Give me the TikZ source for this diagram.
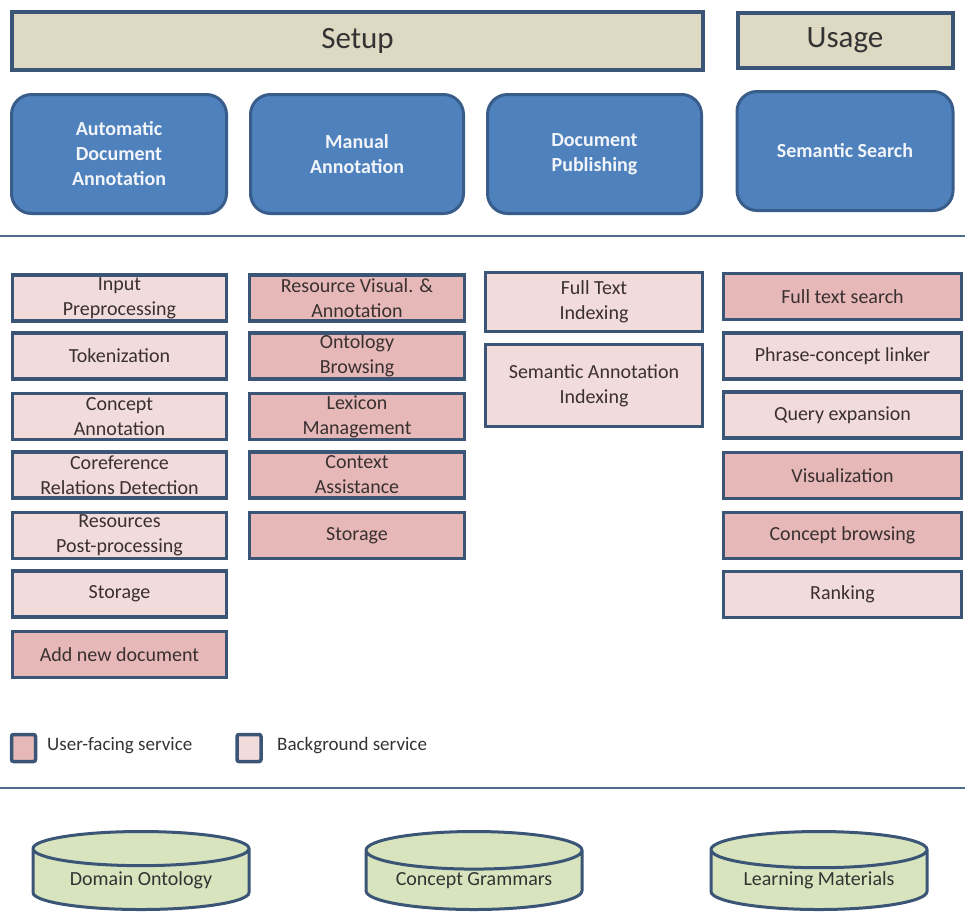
\documentclass[tikz,border=0pt]{standalone}
\usepackage{fontspec}
\setmainfont{Carlito}
\usetikzlibrary{shapes.geometric}

\definecolor{bandtan}{RGB}{221,217,195}
\definecolor{bandline}{RGB}{59,85,118}
\definecolor{taskblue}{RGB}{79,129,189}
\definecolor{taskline}{RGB}{56,93,138}
\definecolor{pinklight}{RGB}{242,220,219}
\definecolor{pinkdark}{RGB}{230,185,184}
\definecolor{svctext}{RGB}{58,48,48}
\definecolor{dbgreen}{RGB}{215,228,189}
\definecolor{ruleline}{RGB}{80,110,140}

\begin{document}
\begin{tikzpicture}[x=1pt,y=-1pt,
  band/.style={draw=bandline, line width=4pt, fill=bandtan, inner sep=0pt,
    font=\fontsize{31}{36}\selectfont, text=black!80},
  task/.style={draw=taskline, line width=3pt, fill=taskblue, rounded corners=20pt,
    align=center, inner sep=0pt, text=white!92!taskblue,
    font=\fontsize{20}{25}\selectfont\bfseries, minimum height=119},
  svc/.style={draw=bandline, line width=3.5pt, align=center, inner sep=0pt,
    font=\fontsize{20}{25}\selectfont, text=svctext, minimum height=46},
  bgsvc/.style={svc, fill=pinklight},
  ufsvc/.style={svc, fill=pinkdark},
  colA/.style={minimum width=214},
  colB/.style={minimum width=215},
  colC/.style={minimum width=217},
  colD/.style={minimum width=238},
  key/.style={draw=bandline, line width=3.5pt, rounded corners=2pt, inner sep=0pt,
    minimum width=24, minimum height=27},
  keytext/.style={anchor=west, inner sep=0pt, font=\fontsize{19}{23}\selectfont, text=black!80},
  store/.style={cylinder, shape border rotate=90, aspect=0.24, draw=bandline,
    line width=3pt, fill=dbgreen, inner sep=0pt, minimum width=216, minimum height=78,
    font=\fontsize{20}{24}\selectfont, text=black!80},
  rule/.style={draw=ruleline, line width=1.5pt}
]
\useasboundingbox (0,0) rectangle (965,914);

% Phases
\node[band, minimum width=691, minimum height=58] (setup) at (357.5,41) {Setup};
\node[band, minimum width=215, minimum height=55] (usage) at (845,40) {Usage};

% Tasks
\node[task, minimum width=215] (autoann) at (119,154) {Automatic\\Document\\Annotation};
\node[task, minimum width=213] (manann) at (357,154) {Manual\\Annotation};
\node[task, minimum width=214] (docpub) at (594.5,154) {Document\\Publishing};
\node[task, minimum width=216] (semsearch) at (845,151) {Semantic Search};

\coordinate (ruleAw) at (0,236);
\coordinate (ruleAe) at (965,236);
\draw[rule] (ruleAw) -- (ruleAe);

% Services of automatic annotation
\node[bgsvc, colA] (inprep) at (119.5,298) {Input\\Preprocessing};
\node[bgsvc, colA] (token) at (119.5,356) {Tokenization};
\node[bgsvc, colA] (conann) at (119.5,416.5) {Concept\\Annotation};
\node[bgsvc, colA] (coref) at (119.5,475) {Coreference\\Relations Detection};
\node[bgsvc, colA] (postproc) at (119.5,535.5) {Resources\\Post-processing};
\node[bgsvc, colA] (storeA) at (119.5,594) {Storage};
\node[ufsvc, colA] (adddoc) at (119.5,654.5) {Add new document};

% Services of manual annotation
\node[ufsvc, colB] (resvis) at (357,298) {Resource Visual. \&\\Annotation};
\node[ufsvc, colB] (ontbrowse) at (357,356) {Ontology\\Browsing};
\node[ufsvc, colB] (lexman) at (357,416.5) {Lexicon\\Management};
\node[ufsvc, colB] (context) at (357,475) {Context\\Assistance};
\node[ufsvc, colB] (storeB) at (357,535.5) {Storage};

% Services of document publishing
\node[bgsvc, colC, minimum height=59] (ftindex) at (594,302) {Full Text\\Indexing};
\node[bgsvc, colC, minimum height=82] (saindex) at (594,385.5) {Semantic Annotation\\Indexing};

% Services of semantic search
\node[ufsvc, colD] (ftsearch) at (842.5,296.5) {Full text search};
\node[bgsvc, colD] (linker) at (842.5,356) {Phrase-concept linker};
\node[bgsvc, colD] (queryexp) at (842.5,415) {Query expansion};
\node[ufsvc, colD] (visual) at (842.5,475.5) {Visualization};
\node[ufsvc, colD] (conbrowse) at (842.5,535.5) {Concept browsing};
\node[bgsvc, colD] (ranking) at (842.5,594.5) {Ranking};

% Legend
\node[key, fill=pinkdark] (keyuf) at (23.5,748) {};
\node[keytext] (keyuftext) at (47,746) {User-facing service};
\node[key, fill=pinklight] (keybg) at (249,748) {};
\node[keytext] (keybgtext) at (277,746) {Background service};

\coordinate (ruleBw) at (0,788);
\coordinate (ruleBe) at (965,788);
\draw[rule] (ruleBw) -- (ruleBe);

% Resources
\node[store, anchor=south] (ontology) at (141,911) {Domain Ontology};
\node[store, anchor=south] (grammars) at (474,911) {Concept Grammars};
\node[store, anchor=south] (materials) at (819,911) {Learning Materials};

\end{tikzpicture}
\end{document}
